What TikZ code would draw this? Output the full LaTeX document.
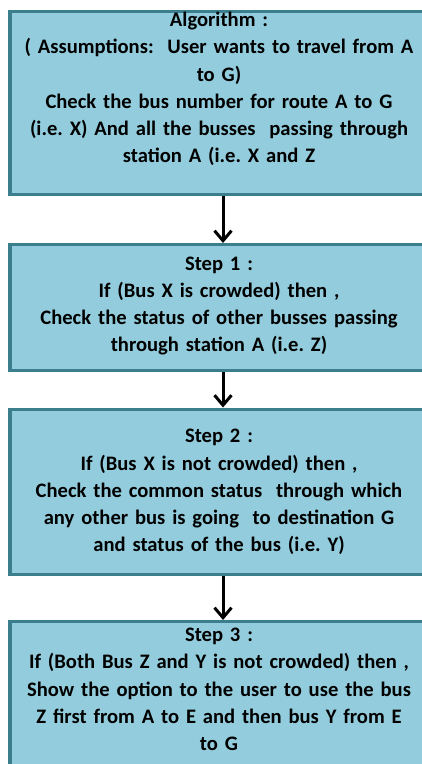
\documentclass[tikz,border=0pt]{standalone}
\usepackage{fontspec}
\setmainfont{Carlito}
\usetikzlibrary{arrows.meta}
\definecolor{boxfill}{HTML}{93CDDD}
\definecolor{boxline}{HTML}{3B7F8F}
% emphasised words
\newcommand{\hv}[1]{\textbf{#1}}
\tikzset{
  x=1pt, y=-1pt,
  flowbox/.style={draw=boxline, line width=3.2pt, fill=boxfill, rectangle,
    minimum width=418pt, inner sep=0pt, anchor=north},
  flowtext/.style={align=center, font=\fontsize{20.6}{27.2}\selectfont\bfseries\frenchspacing,
    text width=416pt, inner sep=0pt},
  flowarrow/.style={line width=3pt, -{Straight Barb[length=10pt,width=17pt,line width=3pt]}}
}
\begin{document}
\begin{tikzpicture}
\useasboundingbox (0,0) rectangle (422,764);
% boxes
\node[flowbox, minimum height=183pt] (b0) at (219,9.5) {};
\node[flowbox, minimum height=126pt] (b1) at (219,243) {};
\node[flowbox, minimum height=165pt] (b2) at (219,407.5) {};
\node[flowbox, minimum height=170pt] (b3) at (219,620) {};
% texts
\node[flowtext] (t0) at (219,89) {Algorithm :\\
( Assumptions:\ \ User wants to travel from A\\
to G)\\
Check the bus number for route A to G\\
(i.e. X) And all the busses\ \ passing through\\
station A (i.e. X and Z};
\node[flowtext] (t1) at (219,306) {Step 1 :\\
If (Bus X is crowded) then ,\\
Check the status of other busses passing\\
through station A (i.e. Z)};
\node[flowtext] (t2) at (219,492) {Step 2 :\\
If (Bus X is not crowded) then ,\\
Check the common status\ \ through which\\
any other bus is going\ \ to destination G\\
and status of the bus (i.e. Y)};
\node[flowtext] (t3) at (219,689.5) {Step 3 :\\
If (Both Bus Z and Y is not crowded) then ,\\
Show the option to the user to use the \hv{bus}\\
\hv{Z first from A to E} and then \hv{bus Y from E}\\
\hv{to G}};
% connectors
\draw[flowarrow] (b0.south) ++(4,0) coordinate (a0) -- (a0 |- b1.north);
\draw[flowarrow] (b1.south) ++(4,0) coordinate (a1) -- (a1 |- b2.north);
\draw[flowarrow] (b2.south) ++(4,0) coordinate (a2) -- (a2 |- b3.north);
\end{tikzpicture}
\end{document}
